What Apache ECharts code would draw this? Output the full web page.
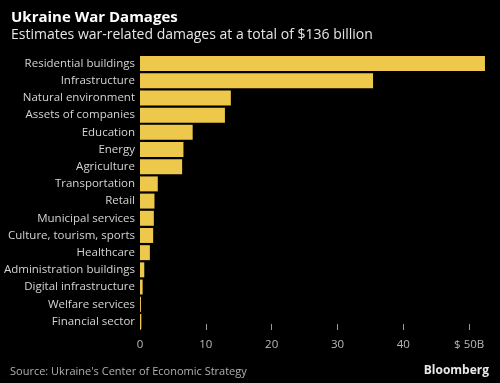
<!DOCTYPE html>
<html>
<head>
<meta charset="utf-8">
<script src="https://cdn.jsdelivr.net/npm/echarts@6/dist/echarts.min.js"></script>
<style>
html,body{margin:0;padding:0;background:#000;}
#chart{width:500px;height:383px;}
</style>
</head>
<body>
<div id="chart"></div>
<script>
const categories = [
  "Residential buildings","Infrastructure","Natural environment","Assets of companies",
  "Education","Energy","Agriculture","Transportation","Retail","Municipal services",
  "Culture, tourism, sports","Healthcare","Administration buildings","Digital infrastructure",
  "Welfare services","Financial sector"
];
const damages = [52.4, 35.4, 13.8, 12.9, 8.0, 6.6, 6.4, 2.7, 2.2, 2.1, 2.0, 1.5, 0.65, 0.4, 0.15, 0.2];
const xTicks = [0, 10, 20, 30, 40, 50];
const xTickLabels = ["0", "10", "20", "30", "40", "$ 50B"];

const FONT = "Open Sans";
const chart = echarts.init(document.getElementById('chart'), null, {renderer: 'canvas'});
chart.setOption({
  backgroundColor: '#000',
  animation: false,
  title: [
    {text: 'Ukraine War Damages', left: 6, top: 5,
     textStyle: {color: '#fff', fontFamily: FONT, fontWeight: 'bold', fontSize: 15}},
    {text: 'Estimates war-related damages at a total of $136 billion', left: 6, top: 23,
     textStyle: {color: '#e6e6e6', fontFamily: FONT, fontWeight: 'normal', fontSize: 14}},
    {text: "Source: Ukraine's Center of Economic Strategy", left: 5, top: 361,
     textStyle: {color: '#b0b0b0', fontFamily: FONT, fontWeight: 'normal', fontSize: 11}},
    {text: 'Bloomberg', right: 6, top: 360,
     textStyle: {color: '#e8e8e8', fontFamily: FONT, fontWeight: 'bold', fontSize: 12}}
  ],
  grid: {left: 140, right: -35, top: 55, bottom: 53, containLabel: false, outerBoundsMode: 'none'},
  xAxis: {
    type: 'value', min: 0, max: 60, interval: 10,
    splitLine: {show: false},
    axisLine: {show: false},
    axisTick: {show: true, inside: true, length: 6, lineStyle: {color: '#9a9a9a', width: 1}},
    axisLabel: {
      color: '#b8b8b8', fontFamily: FONT, fontSize: 11.5, margin: 9,
      formatter: function (v) { const i = xTicks.indexOf(v); return i >= 0 ? xTickLabels[i] : ''; }
    }
  },
  yAxis: {
    type: 'category', data: categories, inverse: true,
    axisLine: {show: false}, axisTick: {show: false},
    axisLabel: {color: '#d4d4d4', fontFamily: FONT, fontSize: 11.5, margin: 5}
  },
  series: [{
    type: 'bar', data: damages, barCategoryGap: '13%',
    itemStyle: {color: '#EDC84B'}
  }]
});
</script>
</body>
</html>
